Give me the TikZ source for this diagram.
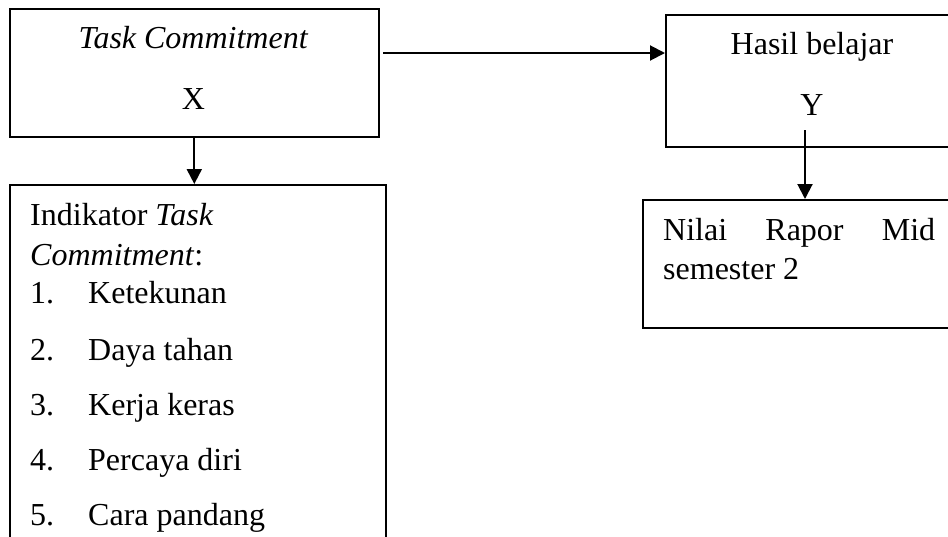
\documentclass[tikz,border=0pt]{standalone}
\usepackage{fontspec}
\setmainfont{Liberation Serif}
\usetikzlibrary{positioning}
\usetikzlibrary{arrows.meta}

\begin{document}
\begin{tikzpicture}[x=1pt,y=-1pt,
  box/.style={draw,rectangle,line width=1.6pt,inner sep=0pt,anchor=north west},
  txt/.style={inner sep=0pt,anchor=base west},
  arr/.style={-{Triangle[length=15pt,width=15pt]},line width=2pt},
  font=\fontsize{32}{39}\selectfont]
\useasboundingbox (0,0) rectangle (948,536);

\node[box,minimum width=369,minimum height=128] (X) at (9,8) {};
\node[txt,anchor=base] (Xname) at (193.5,48) {\textit{Task Commitment}};
\node[txt,anchor=base] (Xsym)  at (193.5,109) {X};

\node[box,minimum width=294,minimum height=132] (Y) at (665,14) {};
\node[txt,anchor=base] (Yname) at (812,54) {Hasil belajar};
\node[txt,anchor=base] (Ysym)  at (812,115) {Y};

\node[box,minimum width=376,minimum height=376] (I) at (9,184) {};
\node[txt] (Ihead)  at (30,225) {Indikator \textit{Task}};
\node[txt] (Ihead2) at (30,265) {\textit{Commitment}:};
\node[txt] (n1) at (30,303) {1.};  \node[txt] (i1) at (88,303) {Ketekunan};
\node[txt] (n2) at (30,360) {2.};  \node[txt] (i2) at (88,360) {Daya tahan};
\node[txt] (n3) at (30,415) {3.};  \node[txt] (i3) at (88,415) {Kerja keras};
\node[txt] (n4) at (30,470) {4.};  \node[txt] (i4) at (88,470) {Percaya diri};
\node[txt] (n5) at (30,525) {5.};  \node[txt] (i5) at (88,525) {Cara pandang};

\node[box,minimum width=314,minimum height=128] (N) at (642,199) {};
\node[txt] (N1) at (663,240) {\makebox[272pt][s]{Nilai Rapor Mid}};
\node[txt] (N2) at (663,279) {semester 2};

\coordinate (h) at (383,53);
\coordinate (v) at (805,130);
\draw[arr] (h) -- (h -| Y.west);
\draw[arr] (X.south) -- (X.south |- I.north);
\draw[arr] (v) -- (v |- N.north);

\end{tikzpicture}
\end{document}
